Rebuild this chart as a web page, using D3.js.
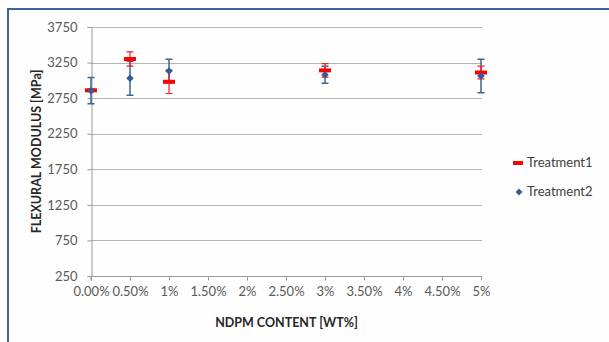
<!DOCTYPE html>
<html>
<head>
<meta charset="utf-8">
<script src="https://cdn.jsdelivr.net/npm/d3@7"></script>
<style>
  html, body { margin: 0; padding: 0; background: #fff; }
  svg { display: block; font-family: Lato, "Open Sans", sans-serif; }
</style>
</head>
<body>
<svg id="chart" width="609" height="342"></svg>
<script>
// ---- data ----
const xValues = [0, 0.5, 1, 3, 5];
const treatment1 = [2860, 3300, 2980, 3140, 3110];
const treatment1Err = [20, 100, 165, 95, 90];
const treatment2 = [2855, 3030, 3130, 3080, 3060];
const treatment2Err = [185, 240, 165, 120, 235];
const xTickValues = [0, 0.5, 1, 1.5, 2, 2.5, 3, 3.5, 4, 4.5, 5];
const xTickLabels = ["0.00%", "0.50%", "1%", "1.50%", "2%", "2.50%", "3%", "3.50%", "4%", "4.50%", "5%"];
const yTickValues = [250, 750, 1250, 1750, 2250, 2750, 3250, 3750];
const seriesNames = ["Treatment1", "Treatment2"];

// ---- layout ----
const svg = d3.select("#chart");
const plot = { left: 91, right: 482, top: 27, bottom: 276 };
const x = d3.scaleLinear().domain([0, 5]).range([plot.left, plot.right - 1]);
const y = d3.scaleLinear().domain([250, 3750]).range([plot.bottom, plot.top]);

// chart border
svg.append("rect").attr("x", 8).attr("y", 9).attr("width", 609).attr("height", 340)
  .attr("fill", "#fefefe").attr("stroke", "#3d6597").attr("stroke-width", 2);

// gridlines
svg.append("g").selectAll("line").data(yTickValues.filter(d => d !== 250)).join("line")
  .attr("x1", plot.left).attr("x2", plot.right)
  .attr("y1", d => Math.round(y(d)) + 0.5).attr("y2", d => Math.round(y(d)) + 0.5)
  .attr("stroke", "#b5b5b5").attr("stroke-width", 1);

// y axis
const yAxis = d3.axisLeft(y).tickValues(yTickValues).tickSize(4).tickPadding(10).tickFormat(d3.format("d"));
const gy = svg.append("g").attr("transform", `translate(${plot.left + 0.5},0)`).call(yAxis);
gy.select(".domain").attr("stroke", "#9a9a9a");
gy.selectAll(".tick line").attr("stroke", "#9a9a9a");
gy.selectAll(".tick text").attr("fill", "#595959").style("font-size", "13px").style("font-family", "Lato, sans-serif");

// x axis
const xAxis = d3.axisBottom(x).tickValues(xTickValues).tickSize(4).tickPadding(6)
  .tickFormat((d, i) => xTickLabels[i]);
const gx = svg.append("g").attr("transform", `translate(0,${plot.bottom + 0.5})`).call(xAxis);
gx.select(".domain").attr("stroke", "#9a9a9a").attr("d", `M${plot.left},4V0H${plot.right}`);
gx.selectAll(".tick line").attr("stroke", "#9a9a9a");
gx.selectAll(".tick text").attr("fill", "#595959").style("font-size", "13px").style("font-family", "Lato, sans-serif");

// axis titles
svg.append("text").attr("x", (plot.left + plot.right) / 2).attr("y", 327)
  .attr("text-anchor", "middle").attr("fill", "#262626")
  .style("font-size", "12.5px").style("font-weight", "bold").text("NDPM CONTENT [WT%]");
svg.append("text").attr("transform", `translate(41,${(plot.top + plot.bottom) / 2}) rotate(-90)`)
  .attr("text-anchor", "middle").attr("fill", "#262626")
  .style("font-size", "12.5px").style("font-weight", "bold").text("FLEXURAL MODULUS [MPa]");

// error bars helper
function errorBars(vals, errs, color, width) {
  const g = svg.append("g").attr("stroke", color).attr("stroke-width", width).attr("fill", "none");
  const pts = xValues.map((xv, i) => ({ x: xv, v: vals[i], e: errs[i] }));
  g.selectAll("path").data(pts).join("path")
    .attr("d", d => {
      const cx = x(d.x), t = y(d.v + d.e), b = y(d.v - d.e);
      return `M${cx},${t}V${b}M${cx - 3.5},${t}H${cx + 3.5}M${cx - 3.5},${b}H${cx + 3.5}`;
    });
}

errorBars(treatment2, treatment2Err, "#3d6597", 1.5);
errorBars(treatment1, treatment1Err, "#ff1a1a", 1.2);

// Treatment1 markers (red dash)
svg.append("g").selectAll("rect").data(xValues.map((xv, i) => ({ x: xv, v: treatment1[i] }))).join("rect")
  .attr("x", d => x(d.x) - 6).attr("y", d => y(d.v) - 2).attr("width", 12).attr("height", 4)
  .attr("fill", "#ff0000");

// Treatment2 markers (blue diamond)
const diamond = d3.symbol().type(d3.symbolDiamond2).size(36);
svg.append("g").selectAll("path").data(xValues.map((xv, i) => ({ x: xv, v: treatment2[i] }))).join("path")
  .attr("transform", d => `translate(${x(d.x)},${y(d.v)})`)
  .attr("d", diamond).attr("fill", "#2f5d95");

// legend
const lg = svg.append("g");
lg.append("rect").attr("x", 513).attr("y", 161).attr("width", 10).attr("height", 4).attr("fill", "#ff0000");
lg.append("path").attr("transform", "translate(519,192)").attr("d", d3.symbol().type(d3.symbolDiamond2).size(30)).attr("fill", "#2f5d95");
lg.selectAll("text").data(seriesNames).join("text")
  .attr("x", 527).attr("y", (d, i) => 167 + i * 29)
  .attr("fill", "#404040").style("font-size", "13px").text(d => d);
</script>
</body>
</html>
